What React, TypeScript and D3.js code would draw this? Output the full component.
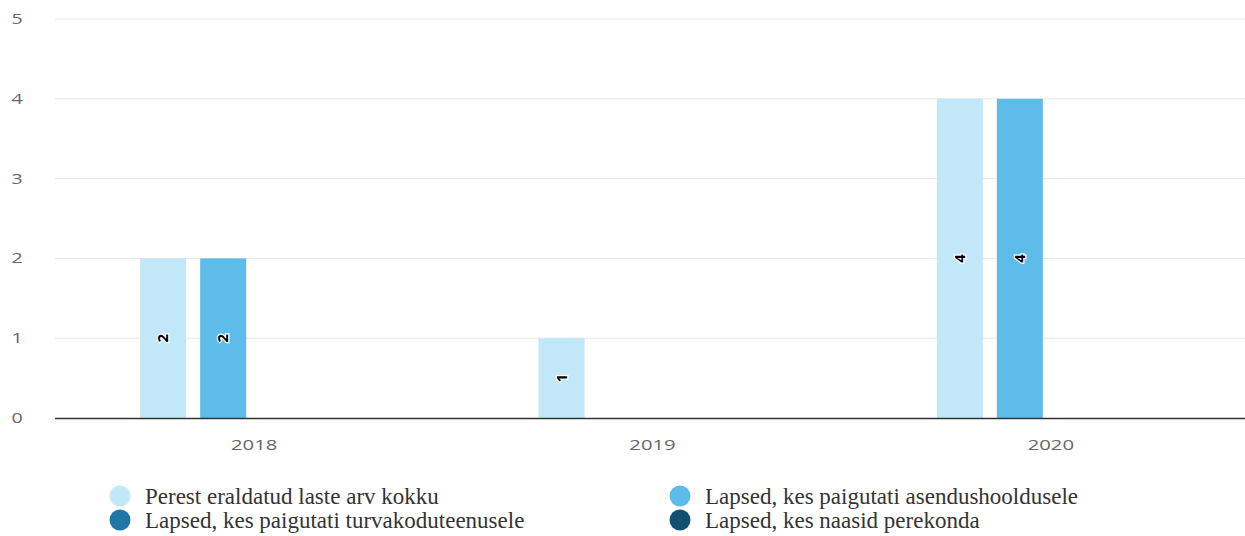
import React from 'react';
import * as d3 from 'd3';

const years = ['2018', '2019', '2020'];
const seriesNames = [
  'Perest eraldatud laste arv kokku',
  'Lapsed, kes paigutati asendushooldusele',
  'Lapsed, kes paigutati turvakoduteenusele',
  'Lapsed, kes naasid perekonda',
];
const seriesColors = ['#c1e7f8', '#5ebcea', '#2176a8', '#13506f'];
const perestKokku = [2, 1, 4];
const asendushooldus = [2, null, 4];
const turvakodu = [null, null, null];
const naasidPerekonda = [null, null, null];
const yTicks = [0, 1, 2, 3, 4, 5];

const W = 1245;
const H = 536;
const margin = { left: 55, top: 19 };

const tickFont = "'Open Sans', sans-serif";

export default function App() {
  const allSeries = [perestKokku, asendushooldus, turvakodu, naasidPerekonda];
  const x = d3.scaleBand<string>().domain(years).range([margin.left, 1250]);
  // 4 bars per year, 46px wide on a 60px step
  const inner = d3.scaleBand<number>().domain([0, 1, 2, 3]).range([-120, 120]).paddingInner(14 / 60).paddingOuter(7 / 60);
  const y = d3.scaleLinear().domain([0, 5]).range([418, margin.top]);

  return (
    <svg width={W} height={H} style={{ position: 'absolute', left: 0, top: 0 }}>
      <rect width={W} height={H} fill="#fff" />
      {yTicks.map((t) => (
        <g key={t}>
          {t > 0 && <line x1={margin.left} x2={W} y1={y(t)} y2={y(t)} stroke="#e6e6e6" strokeWidth={1} />}
          <text transform={`translate(17,${y(t) + 5}) scale(1.4,1)`} textAnchor="middle" fontFamily={tickFont} fontSize={14} fill="#666">{t}</text>
        </g>
      ))}
      {allSeries.map((vals, si) =>
        vals.map((v, ci) => {
          if (v == null) return null;
          const center = (x(years[ci]) as number) + x.bandwidth() / 2 - 1;
          const bx = center + (inner(si) as number);
          const bw = inner.bandwidth();
          const cy = (y(v) + y(0)) / 2;
          const cx = bx + bw / 2;
          return (
            <g key={`${si}-${ci}`}>
              <rect x={bx} y={y(v)} width={bw} height={y(0) - y(v)} fill={seriesColors[si]} />
              <text
                transform={`translate(${cx},${cy}) rotate(-90)`}
                textAnchor="middle"
                dy="0.35em"
                fontFamily={tickFont}
                fontWeight="bold"
                fontSize={15}
                fill="#000"
                stroke="#fff"
                strokeWidth={2.5}
                paintOrder="stroke"
              >{v}</text>
            </g>
          );
        })
      )}
      <line x1={margin.left} x2={W} y1={418.5} y2={418.5} stroke="#333" strokeWidth={1.5} />
      {years.map((yr) => (
        <text key={yr} transform={`translate(${(x(yr) as number) + x.bandwidth() / 2},450) scale(1.45,1)`} textAnchor="middle" fontFamily={tickFont} fontSize={14} fill="#666">{yr}</text>
      ))}
      {seriesNames.map((name, i) => {
        const col = i % 2;
        const row = Math.floor(i / 2);
        const lx = col === 0 ? 120 : 680;
        const ly = 496 + row * 24;
        return (
          <g key={name}>
            <circle cx={lx} cy={ly} r={10.5} fill={seriesColors[i]} />
            <text x={lx + 25} y={ly + 7.5} fontFamily="'Liberation Serif', 'Times New Roman', serif" fontSize={23} fill="#333">{name}</text>
          </g>
        );
      })}
    </svg>
  );
}
